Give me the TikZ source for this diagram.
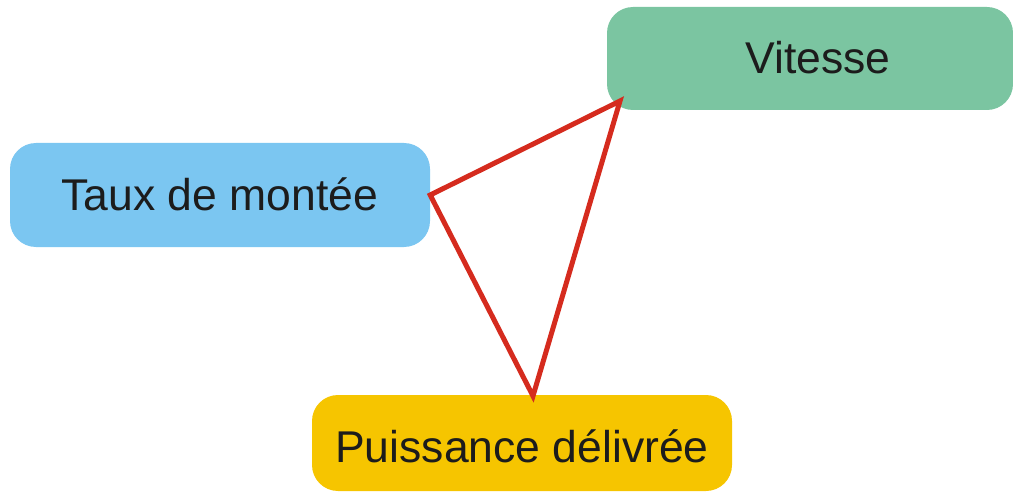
\documentclass[tikz,border=0pt]{standalone}
\usepackage{fontspec}
\setmainfont{Liberation Sans}
\definecolor{boxblue}{HTML}{7BC6F1}
\definecolor{boxgreen}{HTML}{7BC5A1}
\definecolor{boxyellow}{HTML}{F6C500}
\definecolor{linkred}{HTML}{D52B1E}
\definecolor{inkdark}{HTML}{1C1C1C}
\begin{document}
\begin{tikzpicture}[x=1pt,y=-1pt,
  pill/.style={rectangle, rounded corners=26pt, draw=none, inner sep=0pt},
  caption/.style={font=\fontsize{44.5}{52}\selectfont, text=inkdark, inner sep=0pt,
    text height=32pt, text depth=0pt},
  link/.style={draw=linkred, line width=5pt, line join=miter}]
\useasboundingbox (0,0) rectangle (1013,492);
% coloured boxes
\node[pill, fill=boxblue, minimum width=420pt, minimum height=104pt] (tau) at (220,195) {};
\node[pill, fill=boxgreen, minimum width=406pt, minimum height=103pt] (vit) at (810,58.5) {};
\node[pill, fill=boxyellow, minimum width=420pt, minimum height=96pt] (pui) at (522,443) {};
% captions
\node[caption] (taul) at (220,195) {Taux de montée};
\node[caption] (vitl) at (818,57.5) {Vitesse};
\node[caption] (puil) at (522,446) {Puissance délivrée};
% triangle linking the three quantities
\coordinate (cv) at (620,101);
\coordinate (cp) at (533,396);
\draw[link] (tau.east) -- (cv) -- (cp) -- cycle;
\end{tikzpicture}
\end{document}
